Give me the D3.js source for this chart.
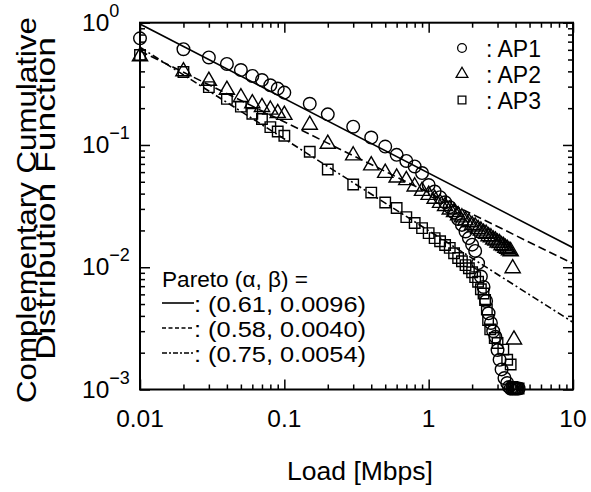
<!DOCTYPE html>
<html>
<head>
<meta charset="utf-8">
<script src="https://cdn.jsdelivr.net/npm/d3@7"></script>
<style>
  html, body { margin: 0; padding: 0; background: #fff; }
  svg { display: block; }
  text { font-family: "Liberation Sans", Arial, Helvetica, sans-serif; fill: #000; }
</style>
</head>
<body>
<svg id="chart" width="591" height="492"></svg>
<script>
// ---- data ----
const xTicks = [0.01, 0.1, 1, 10];
const xTickLabels = ["0.01", "0.1", "1", "10"];
const yTicks = [1, 0.1, 0.01, 0.001];
const yTickExponents = ["0", "\u22121", "\u22122", "\u22123"];

const seriesNames = ["AP1", "AP2", "AP3"];

const ap1X = [0.01,0.02,0.03,0.04,0.05,0.06,0.07,0.08,0.09,0.1,0.15,0.2,0.3,0.4,0.5,0.6,0.7,0.8,0.9,
  1.0,1.1,1.2,1.3,1.4,1.5,1.6,1.7,1.8,1.9,2.0,2.1,2.2,2.3,2.4,2.5,2.6,2.7,2.8,2.9,3.0,3.1,3.2,3.35,3.5,3.6,3.7,3.8,3.9,4.0,4.1,4.2];
const ap1Y = [0.745,0.607,0.52,0.46,0.41,0.367,0.34,0.308,0.289,0.268,0.217,0.178,0.141,0.115,0.097,0.083,0.074,0.0667,0.0589,
  0.047,0.0416,0.0374,0.034,0.031,0.028,0.0248,0.0222,0.0196,0.0173,0.0153,0.0136,0.0108,0.0084,0.0069,0.0053,0.0042,0.0035,0.003,0.0027,0.0021,0.00175,0.00146,0.00124,0.00113,0.00105,0.00102,0.00102,0.00102,0.00102,0.00102,0.00102];

const ap2X = [0.01,0.02,0.03,0.04,0.05,0.06,0.07,0.08,0.09,0.1,0.15,0.2,0.3,0.4,0.5,0.6,0.7,0.8,0.9,
  1.0,1.1,1.2,1.3,1.4,1.5,1.6,1.7,1.8,1.9,2.0,2.1,2.2,2.3,2.4,2.5,2.6,2.7,2.8,2.9,3.0,3.1,3.2,3.3,3.4,3.5,3.6,3.7,3.82,3.9];
const ap2Y = [0.53,0.4,0.334,0.282,0.245,0.219,0.204,0.194,0.182,0.176,0.146,0.102,0.082,0.068,0.059,0.054,0.0515,0.0457,0.042,
  0.039,0.0362,0.0335,0.0316,0.0296,0.0282,0.0265,0.0255,0.0241,0.0233,0.0221,0.0215,0.0205,0.0199,0.0191,0.0187,0.0179,0.0175,0.0168,0.0165,0.0159,0.0157,0.0151,0.0149,0.0144,0.0141,0.0137,0.0135,0.0098,0.00256];

const ap3X = [0.01,0.02,0.03,0.04,0.05,0.06,0.07,0.08,0.09,0.1,0.15,0.2,0.3,0.4,0.5,0.6,0.7,0.8,0.9,
  1.0,1.1,1.2,1.3,1.4,1.5,1.6,1.7,1.8,1.9,2.0,2.1,2.2,2.3,2.4,2.46,2.53,2.58,2.67,2.87,3.0,3.29,3.5,3.7,3.8,3.9,4.0,4.1,4.2];
const ap3Y = [0.545,0.395,0.297,0.238,0.206,0.18,0.163,0.14,0.129,0.119,0.088,0.063,0.0475,0.0408,0.0338,0.0305,0.0257,0.023,0.0209,
  0.019,0.0173,0.0163,0.0152,0.0144,0.013,0.0119,0.0112,0.0104,0.0098,0.0091,0.0083,0.0076,0.0066,0.0061,0.0054,0.0045,0.0037,0.0031,0.00264,0.0024,0.00212,0.00175,0.0016,0.00105,0.00102,0.00102,0.00102,0.00102];

// Pareto fit parameters (alpha, beta) from the legend
const fitNames = ["(0.61, 0.0096)", "(0.58, 0.0040)", "(0.75, 0.0054)"];
const fitAlpha = [0.61, 0.58, 0.75];
const fitBeta = [0.0096, 0.0040, 0.0054];

// ---- layout ----
const L = 140, R = 573, T = 22.7, B = 389.5;
const svg = d3.select("#chart");
const x = d3.scaleLog().domain([0.01, 10]).range([L, R]);
const y = d3.scaleLog().domain([0.001, 1]).range([B, T]);

svg.append("defs").append("clipPath").attr("id", "clip")
  .append("rect").attr("x", L).attr("y", T).attr("width", R - L).attr("height", B - T);

// minor ticks
const minorX = [], minorY = [];
[0.01, 0.1, 1].forEach(d => { for (let k = 2; k <= 9; k++) minorX.push(d * k); });
[0.001, 0.01, 0.1].forEach(d => { for (let k = 2; k <= 9; k++) minorY.push(d * k); });

function axisGroup(axis, tx, ty) {
  const g = svg.append("g").attr("transform", `translate(${tx},${ty})`).call(axis);
  g.selectAll("path.domain").remove();
  g.selectAll("line").attr("stroke", "#000").attr("stroke-width", 1.5);
  g.selectAll("text").remove();
  return g;
}
const MAJ = 10, MIN = 5;
axisGroup(d3.axisBottom(x).tickValues(xTicks).tickSize(-MAJ), 0, B);
axisGroup(d3.axisBottom(x).tickValues(minorX).tickSize(-MIN), 0, B);
axisGroup(d3.axisTop(x).tickValues(xTicks).tickSize(-MAJ), 0, T);
axisGroup(d3.axisTop(x).tickValues(minorX).tickSize(-MIN), 0, T);
axisGroup(d3.axisLeft(y).tickValues(yTicks).tickSize(-MAJ), L, 0);
axisGroup(d3.axisLeft(y).tickValues(minorY).tickSize(-MIN), L, 0);
axisGroup(d3.axisRight(y).tickValues(yTicks).tickSize(-MAJ), R, 0);
axisGroup(d3.axisRight(y).tickValues(minorY).tickSize(-MIN), R, 0);

// frame
svg.append("rect").attr("x", L).attr("y", T).attr("width", R - L).attr("height", B - T)
  .attr("fill", "none").attr("stroke", "#000").attr("stroke-width", 2);

// x tick labels
svg.append("g").selectAll("text").data(xTicks).join("text")
  .attr("x", d => x(d)).attr("y", 427).attr("text-anchor", "middle")
  .attr("font-size", 24.5).text((d, i) => xTickLabels[i]);

// y tick labels with superscripts
const yl = svg.append("g").selectAll("text").data(yTicks).join("text")
  .attr("x", 82).attr("y", d => y(d) + 8).attr("font-size", 24.5);
yl.append("tspan").text("10");
yl.append("tspan").attr("font-size", 18).attr("dy", -14).text((d, i) => yTickExponents[i]);

// axis titles
svg.append("text").attr("x", 360).attr("y", 480).attr("text-anchor", "middle")
  .attr("font-size", 26.5).text("Load [Mbps]");
svg.append("text").attr("transform", "translate(36,210) rotate(-90)").attr("text-anchor", "middle")
  .attr("font-size", 28).attr("textLength", 386).attr("lengthAdjust", "spacingAndGlyphs")
  .text("Complementary Cumulative");
svg.append("text").attr("transform", "translate(55,198.5) rotate(-90)").attr("text-anchor", "middle")
  .attr("font-size", 28).attr("textLength", 323).attr("lengthAdjust", "spacingAndGlyphs")
  .text("Distribution Function");

// fit lines
const dashes = [null, "8,4", "7,3,2,3"];
const plot = svg.append("g").attr("clip-path", "url(#clip)");
const line = d3.line().x(d => x(d[0])).y(d => y(d[1]));
fitAlpha.forEach((a, i) => {
  const pts = x.domain().map(v => [v, Math.pow(fitBeta[i] / v, a)]);
  plot.append("path").attr("d", line(pts)).attr("fill", "none")
    .attr("stroke", "#000").attr("stroke-width", 1.6)
    .attr("stroke-dasharray", dashes[i]);
});

// markers
const sym = [d3.symbolCircle, d3.symbolTriangle, d3.symbolSquare];
const symSize = [125, 100, 110];
const datasets = [[ap1X, ap1Y], [ap2X, ap2Y], [ap3X, ap3Y]];
datasets.forEach(([xs, ys], i) => {
  const pts = xs.map((v, j) => [v, ys[j]]);
  svg.append("g").selectAll("path").data(pts).join("path")
    .attr("transform", d => `translate(${x(d[0])},${y(d[1])})`)
    .attr("d", d3.symbol().type(sym[i]).size(symSize[i]))
    .attr("fill", "none").attr("stroke", "#000").attr("stroke-width", 1.4);
});

// legend (markers)
const legY = [48, 74, 100];
seriesNames.forEach((n, i) => {
  svg.append("path").attr("transform", `translate(462,${legY[i]})`)
    .attr("d", d3.symbol().type(sym[i]).size(60)())
    .attr("fill", "none").attr("stroke", "#000").attr("stroke-width", 1.3);
  svg.append("text").attr("x", 486).attr("y", legY[i] + 8.5).attr("font-size", 23).text(": " + n);
});

// legend (fits)
svg.append("text").attr("x", 162).attr("y", 286.5).attr("font-size", 22)
  .attr("textLength", 146).attr("lengthAdjust", "spacingAndGlyphs").text("Pareto (\u03b1, \u03b2) =");
const fitRowY = [303, 328, 353];
fitNames.forEach((n, i) => {
  svg.append("line").attr("x1", 162).attr("x2", 194).attr("y1", fitRowY[i]).attr("y2", fitRowY[i])
    .attr("stroke", "#000").attr("stroke-width", 1.6).attr("stroke-dasharray", i === 1 ? "4,2.5" : (i === 2 ? "5,2,2,2" : null));
  svg.append("text").attr("x", 194).attr("y", fitRowY[i] + 8.5).attr("font-size", 22)
    .attr("textLength", 172).attr("lengthAdjust", "spacingAndGlyphs").text(": " + n);
});
</script>
</body>
</html>
